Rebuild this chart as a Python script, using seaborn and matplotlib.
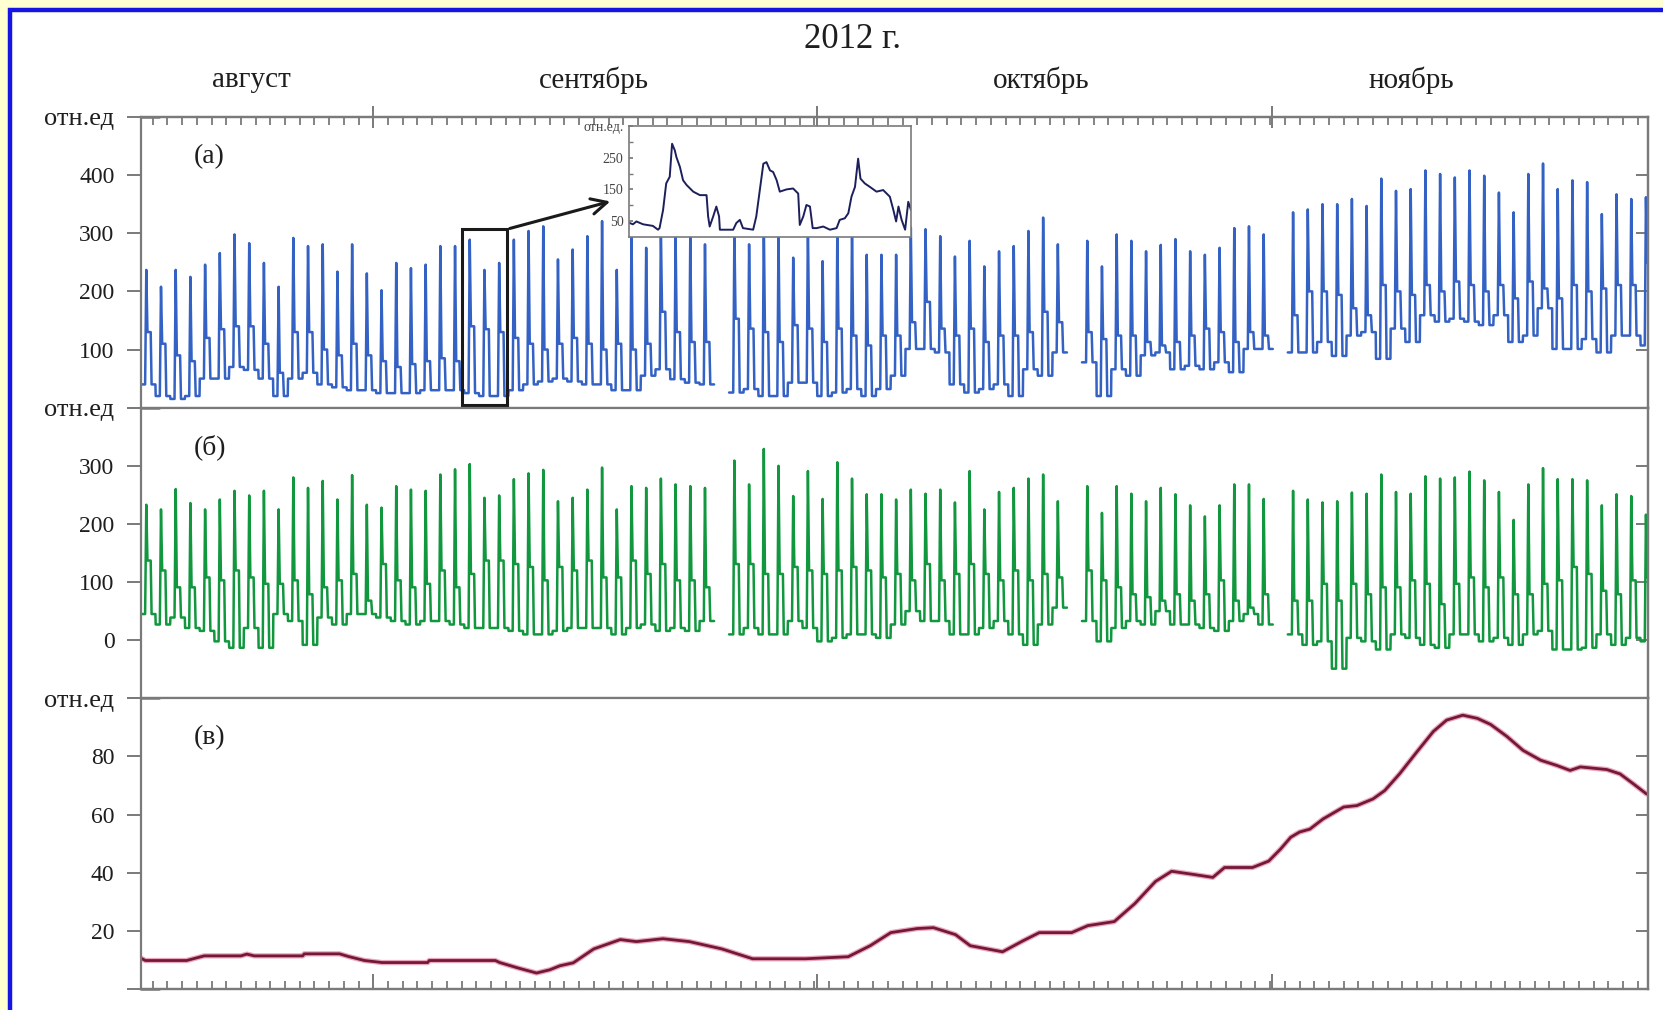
import numpy as np
import pandas as pd
import seaborn as sns
import matplotlib.pyplot as plt
from matplotlib.patches import Rectangle

# -------------------------------------------------
# DATA (one entry per day, NaN = no data)
# -------------------------------------------------
nan = np.nan

# panel (a): daily peak, daytime plateau, night level
peak_a = [237, 208, 237, 225, 246, 266, 298, 283, 249, 208, 292, 278, 281, 234, 281, 231, 202, 249,
          240, 246, 278, 278, 289, 237, 249, 289, 304, 312, 255, 272, 295, 321, 237, 305, 275,
          310, 295, 295, 281, nan,
          305, 281, 320, 300, 258, 315, 252, 300, 310, 263, 263, 263, 310, 307, 295, 260, 287, 243,
          269, 278, 304, 327, 281, nan,
          287, 243, 298, 287, 269, 280,
          290, 269, 263, 275, 309, 312, 298, nan,
          336, 341, 350, 350, 359, 347, 394, 373, 376, 408, 402, 396, 408, 399, 370, 336, 402, 420,
          376, 391, 388, 333, 367, 359, 362]
mid_a = [130, 110, 90, 80, 120, 135, 140, 140, 110, 60, 130, 130, 100, 90, 110, 90, 80, 70,
         75, 80, 85, 80, 140, 135, 130, 120, 110, 100, 110, 120, 110, 100, 110, 100, 110,
         165, 130, 113, 113, nan,
         153, 136, 130, 113, 142, 136, 113, 136, 124, 107, 124, 124, 147, 182, 136, 124, 136, 113,
         124, 124, 130, 165, 147, nan,
         130, 118, 124, 124, 113, 107,
         113, 124, 136, 130, 113, 130, 124, nan,
         159, 200, 200, 194, 171, 159, 211, 200, 194, 211, 200, 217, 211, 200, 211, 188, 217, 205,
         188, 211, 200, 205, 211, 211, 250]
low_a = [40, 20, 15, 20, 50, 50, 70, 65, 50, 20, 50, 60, 40, 35, 30, 30, 25, 25,
         25, 30, 30, 30, 25, 20, 20, 30, 40, 45, 50, 45, 40, 40, 30, 30, 55,
         66, 49, 43, 40, nan,
         26, 32, 20, 20, 43, 43, 20, 26, 32, 20, 32, 55, 101, 101, 95, 40, 26, 32,
         40, 20, 66, 55, 95, nan,
         78, 20, 66, 55, 90, 95,
         66, 72, 66, 78, 61, 101, 101, nan,
         95, 95, 113, 89, 124, 130, 84, 136, 113, 159, 148, 153, 148, 142, 159, 113, 124, 171,
         101, 101, 118, 95, 124, 124, 107]

# panel (б)
peak_b = [233, 225, 260, 236, 225, 242, 257, 249, 257, 225, 280, 262, 274, 242, 284, 233, 228, 265,
          259, 257, 285, 294, 303, 245, 249, 277, 287, 293, 239, 245, 259, 297, 225, 265, 262,
          278, 268, 265, 262, nan,
          309, 268, 329, 300, 248, 291, 243, 306, 278, 251, 251, 242, 259, 252, 259, 237, 291, 225,
          255, 262, 278, 285, 239, nan,
          265, 219, 265, 252, 239, 262,
          251, 232, 213, 232, 268, 268, 243, nan,
          257, 242, 237, 239, 254, 252, 285, 255, 252, 282, 278, 280, 290, 275, 255, 207, 268, 296,
          277, 277, 275, 232, 251, 248, 216]
mid_b = [137, 120, 91, 91, 108, 103, 120, 108, 97, 97, 103, 79, 91, 103, 114, 68, 131, 103,
         91, 97, 120, 91, 114, 137, 137, 131, 126, 103, 126, 120, 137, 108, 108, 137, 114,
         131, 103, 103, 91, nan,
         131, 131, 114, 114, 126, 120, 114, 120, 126, 120, 108, 114, 103, 131, 103, 114, 131, 114,
         103, 120, 103, 114, 108, nan,
         120, 103, 91, 79, 74, 68,
         79, 68, 79, 103, 68, 56, 79, nan,
         68, 68, 97, 68, 97, 79, 91, 91, 103, 97, 62, 97, 108, 91, 108, 79, 79, 97,
         103, 126, 114, 85, 79, 103, 108]
low_b = [45, 27, 39, 21, 16, -2, -13, 21, -13, 45, 33, -8, 39, 27, 45, 45, 39, 33,
         27, 33, 33, 27, 21, 21, 21, 16, 10, 10, 16, 21, 21, 21, 10, 21, 27,
         16, 21, 16, 33, nan,
         10, 21, 10, 10, 33, 21, -2, 4, 10, 10, 4, 27, 50, 33, 33, 10, 10, 21,
         33, 10, -8, 27, 56, nan,
         33, -2, 21, 33, 27, 50,
         27, 27, 21, 16, 33, 45, 27, nan,
         10, -8, -2, -49, 4, -2, -16, 10, 4, -8, -13, 10, 10, -2, 4, -8, 10, 16,
         -16, -16, -13, 10, -8, 4, -2]

# panel (в): smooth curve, day / value
day_c = [0, 0.3, 3.1, 3.7, 4.3, 6.8, 7.2, 7.7, 11.0, 11.1, 13.5, 14.1, 15.2, 16.4, 19.5, 19.6, 24.1,
         24.4, 25.6, 26.9, 27.8, 28.5, 29.4, 30.8, 32.6, 33.7, 35.5, 37.3, 39.5, 41.6, 45.2, 48.1,
         49.6, 51.0, 52.8, 53.9, 55.4, 56.4, 58.6, 60.0, 61.1, 63.3, 64.4, 66.2, 67.6, 69.0, 70.1,
         71.6, 72.9, 73.7, 75.6, 76.7, 77.5, 78.2, 78.8, 79.5, 80.4, 81.8, 82.7, 83.8, 84.6, 85.6,
         86.8, 87.9, 88.8, 89.9, 90.9, 91.8, 92.9, 94.0, 95.2, 96.3, 97.2, 97.9, 99.7, 100.6,
         101.5, 102.4]
val_c = [10.6, 9.8, 9.8, 10.6, 11.4, 11.4, 12.0, 11.4, 11.4, 12.1, 12.1, 11.2, 9.8, 9.1, 9.1, 9.8,
         9.8, 9.1, 7.3, 5.5, 6.6, 8.0, 9.0, 13.8, 17.0, 16.3, 17.3, 16.3, 13.8, 10.4, 10.4, 11.1,
         14.9, 19.4, 20.8, 21.1, 18.7, 14.9, 12.8, 16.6, 19.4, 19.4, 21.8, 23.2, 29.4, 37.0, 40.5,
         39.4, 38.4, 41.8, 41.8, 44.0, 48.1, 52.2, 54.0, 55.0, 58.5, 62.6, 63.1, 65.4, 68.3, 74.0,
         81.7, 88.6, 92.5, 94.2, 93.1, 91.0, 86.9, 82.1, 78.7, 76.9, 75.2, 76.4, 75.5, 74.0,
         70.6, 67.1]

# inset: three days of panel (a), hours / value
hour_in = [0.2, 1.0, 1.9, 3.6, 6.1, 7.4, 7.8, 8.7, 9.5, 10.4, 11.0, 11.7, 12.1, 13.0, 13.8, 14.7,
           16.4, 18.1, 19.8, 20.2, 20.6, 21.5, 22.3, 23.0, 23.2, 24.9, 26.6, 27.4, 28.3, 29.1,
           31.7, 32.5, 33.4, 34.3, 35.1, 36.0, 36.8, 37.7, 38.5, 40.2, 41.9, 43.2, 43.6, 44.5,
           45.3, 46.2, 46.9, 47.9, 49.6, 51.3, 53.0, 53.8, 55.1, 56.0, 56.8, 57.7, 58.5, 59.1,
           60.2, 61.5, 63.2, 64.9, 66.6, 67.5, 68.2, 68.8, 69.6, 70.5, 71.3, 72.0]
val_in = [44, 40, 49, 40, 35, 23, 28, 85, 169, 190, 294, 273, 252, 221, 179, 164,
          143, 132, 132, 65, 33, 65, 96, 65, 23, 23, 23, 44, 54, 28,
          23, 65, 148, 231, 236, 210, 205, 179, 143, 150, 153, 137, 38, 65,
          101, 96, 28, 28, 33, 23, 28, 54, 59, 75, 127, 158, 247, 184,
          169, 158, 143, 148, 127, 85, 49, 96, 54, 23, 111, 85]

months = ["август", "сентябрь", "октябрь", "ноябрь"]
month_ticks = [15.8, 46.0, 76.9]
year_label = "2012 г."
unit = "отн.ед"

# -------------------------------------------------
# helpers
# -------------------------------------------------
PROFILE = [0.0, 0.28, 0.36, 0.44, 0.66, 0.72, 0.98]


def daily_frame(peak, mid, low):
    rows = []
    seg = 0
    for k in range(len(peak)):
        if np.isnan(peak[k]):
            seg += 1
            continue
        vals = [low[k], low[k], peak[k], mid[k], mid[k], low[k], low[k]]
        for off, v in zip(PROFILE, vals):
            rows.append((k + off, v, seg))
    return pd.DataFrame(rows, columns=["t", "v", "seg"])


grey = "#7a7a7a"
txt = "#1e1e1e"
sns.set_theme(style="ticks")
plt.rcParams["font.family"] = ["Liberation Serif", "DejaVu Serif"]

W, H = 1663, 1010
fig = plt.figure(figsize=(W / 100, H / 100), dpi=100, facecolor="#ffffd2")
fig.patches.append(Rectangle((9.5 / W, -0.05), 1.2, 1 - 9.5 / H + 0.05, transform=fig.transFigure,
                             facecolor="white", edgecolor="#1414e6", lw=3.2, zorder=-10))

gs = fig.add_gridspec(3, 1, left=141 / W, right=1648 / W, top=1 - 117 / H, bottom=1 - 989 / H,
                      hspace=0)
axes = [fig.add_subplot(gs[i]) for i in range(3)]

frames = [daily_frame(peak_a, mid_a, low_a), daily_frame(peak_b, mid_b, low_b)]
colors = ["#3462c4", "#11973e"]
ylims = [(0, 500), (-100, 400), (0, 100)]
yticks = [[0, 100, 200, 300, 400, 500], [-100, 0, 100, 200, 300, 400], [0, 20, 40, 60, 80, 100]]
tags = ["(а)", "(б)", "(в)"]
day_minor = np.arange(0.8, 102.5, 1.0)

for i in range(2):
    sns.lineplot(data=frames[i], x="t", y="v", units="seg", estimator=None, sort=False,
                 color=colors[i], lw=1.8, ax=axes[i], legend=False)

sns.lineplot(x=day_c, y=val_c, color="#eaa6bb", lw=3.8, ax=axes[2], sort=False)
sns.lineplot(x=day_c, y=val_c, color="#74183a", lw=2.0, ax=axes[2], sort=False)

for i, ax in enumerate(axes):
    ax.set_xlim(0, 102.5)
    ax.set_ylim(*ylims[i])
    ax.set_xlabel("")
    ax.set_ylabel("")
    for s in ax.spines.values():
        s.set_color(grey)
        s.set_linewidth(1.6)
    ax.set_yticks(yticks[i])
    ax.set_yticklabels([""] + [str(v) for v in yticks[i][1:-1]] + [unit])
    ax.tick_params(axis="y", direction="out", length=10, width=1.4, color=grey, pad=9,
                   labelsize=17, labelcolor=txt)
    ax.get_yticklabels()[-1].set_fontsize(19)
    # boundary ticks cross the left spine
    for yb in (0, 1):
        ax.plot([0, 0.012], [yb, yb], transform=ax.transAxes, color=grey, lw=1.8,
                clip_on=False, zorder=6)
    sec = ax.secondary_yaxis("right")
    sec.set_yticks(yticks[i])
    sec.tick_params(direction="in", length=9, width=1.4, color=grey, labelright=False)
    sec.spines["right"].set_color(grey)
    sec.spines["right"].set_linewidth(1.6)
    ax.set_xticks(month_ticks)
    ax.set_xticks(day_minor, minor=True)
    ax.tick_params(axis="x", which="both", bottom=False, top=False,
                   labelbottom=False, labeltop=False)
    ax.text(0.035, 0.865, tags[i], transform=ax.transAxes, fontsize=20, va="center", color=txt)

# day ticks along the top of (а) and the bottom of (в)
top_x = axes[0].secondary_xaxis("top")
bot_x = axes[2].secondary_xaxis("bottom")
for sx, maj_dir, maj_len in ((top_x, "inout", 16), (bot_x, "in", 11)):
    sx.set_xticks(month_ticks)
    sx.set_xticks(day_minor, minor=True)
    sx.tick_params(which="major", direction=maj_dir, length=maj_len, width=1.4, color=grey,
                   labeltop=False, labelbottom=False)
    sx.tick_params(which="minor", direction="in", length=6, width=1.3, color=grey)
    for s in sx.spines.values():
        s.set_color(grey)
        s.set_linewidth(1.6)

# zoom box and arrow in panel (а)
axes[0].add_patch(Rectangle((21.8, 5), 3.1, 302, fill=False, ec="#1a1a1a", lw=2.2, zorder=5))
axes[0].annotate("", xy=(32.1, 356), xytext=(24.9, 307), annotation_clip=False,
                 arrowprops=dict(arrowstyle="->", lw=2.2, color="#1a1a1a", mutation_scale=28))

# inset
ax_in = fig.add_axes([629 / W, 1 - 237 / H, 282 / W, 111 / H], facecolor="white")
sns.lineplot(x=hour_in, y=val_in, color="#1c1f5c", lw=1.4, ax=ax_in, sort=False)
ax_in.set_xlim(0, 72)
ax_in.set_ylim(0, 350)
ax_in.set_xticks([])
ax_in.set_yticks([50, 150, 250, 350])
ax_in.set_yticklabels(["50", "150", "250", "отн.ед."])
ax_in.set_yticks([100, 200, 300], minor=True)
ax_in.tick_params(axis="y", which="both", direction="in", length=3, color=grey, labelsize=10,
                  labelcolor="#444444", pad=4)
for s in ax_in.spines.values():
    s.set_color(grey)
    s.set_linewidth(1.2)

# title and month names
fig.text(852 / W, 1 - 40 / H, year_label, ha="center", va="center", fontsize=25, color=txt)
for name, x in zip(months, [251, 594, 1041, 1411]):
    fig.text(x / W, 1 - 80 / H, name, ha="center", va="center", fontsize=21, color=txt)

fig.savefig("out.png", dpi=100, facecolor=fig.get_facecolor())
